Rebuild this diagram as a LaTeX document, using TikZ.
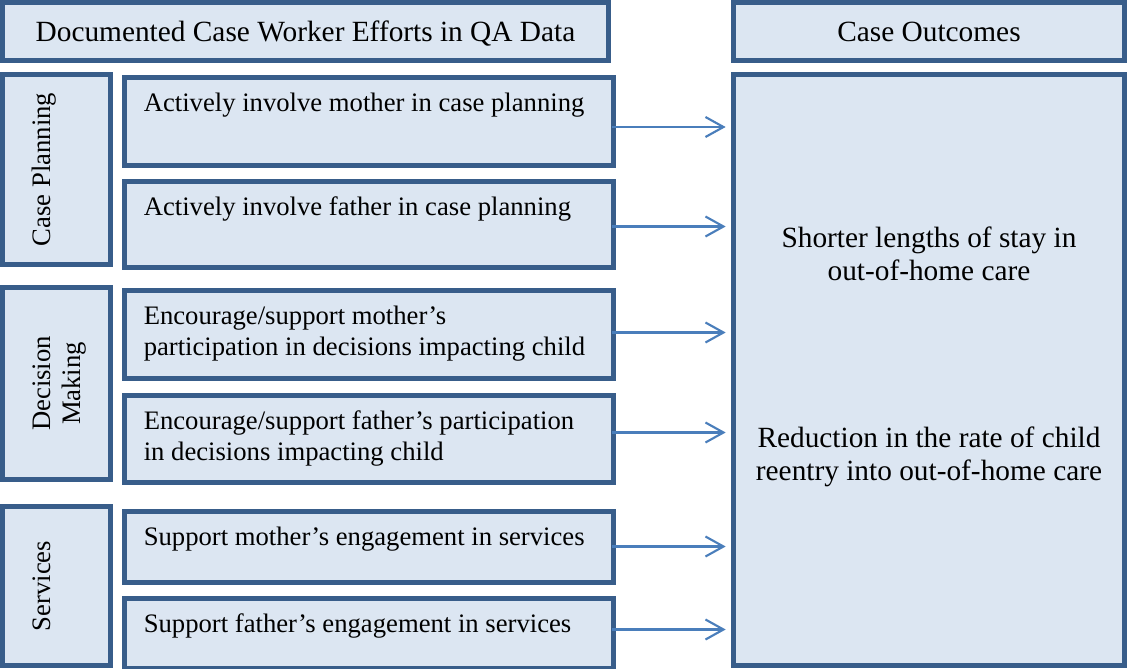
\documentclass[tikz,border=0pt]{standalone}
\usepackage{fontspec}
\setmainfont{Liberation Serif}
\usetikzlibrary{arrows.meta,positioning}

\definecolor{boxline}{HTML}{385D8A}
\definecolor{boxfill}{HTML}{DCE6F2}
\definecolor{arrowline}{HTML}{4A7EBB}
\newcommand{\px}{0.75pt}

\begin{document}
\begin{tikzpicture}[
    x=0.75pt, y=-0.75pt,
    boxed/.style={
        draw=boxline,
        fill=boxfill,
        line width=3.75pt,
        inner sep=0pt
    },
    header/.style={boxed, text height=16pt, text depth=1.75pt,
        font=\fontsize{22}{25}\selectfont},
    group/.style={boxed, rotate=90, align=center,
        minimum height=108*\px, text height=13.7pt, text depth=23.45pt,
        font=\fontsize{20}{22.5}\selectfont},
    effort/.style={boxed, anchor=north west, minimum width=489*\px},
    efftext/.style={anchor=base west, inner sep=0pt, align=left,
        font=\fontsize{20}{23.25}\selectfont},
    outtext/.style={anchor=base, inner sep=0pt, align=center,
        font=\fontsize{22}{25}\selectfont},
    link/.style={
        draw=arrowline,
        line width=1.6pt,
        -{Straight Barb[length=13.5pt, width=15pt]}
    }
]

% bounding box
\useasboundingbox (0,0) rectangle (1127,668);

% headers
\node[header, minimum width=606*\px, minimum height=58*\px] (effhead) at (305.5,31.5) {Documented Case Worker Efforts in QA Data};
\node[header, minimum width=391*\px, minimum height=58*\px] (outhead) at (929,31.5) {Case Outcomes};

% groups
\node[group, minimum width=190*\px] (planning) at (56.5,169.5) {Case Planning};
\node[group, minimum width=192*\px, text height=36.2pt, text depth=0.95pt] (decision) at (56.5,383.5) {Decision\\Making};
\node[group, minimum width=159*\px] (services) at (56.5,586) {Services};

% efforts
\node[effort, minimum height=88*\px] (planmom) at (121.5,74.5) {};
\node[effort, minimum height=86*\px] (plandad) at (121.5,178.5) {};
\node[effort, minimum height=88*\px] (decmom) at (121.5,287.5) {};
\node[effort, minimum height=87*\px] (decdad) at (121.5,392.5) {};
\node[effort, minimum height=71*\px] (servmom) at (121.5,508.5) {};
\node[effort, minimum height=70*\px] (servdad) at (121.5,595.5) {};

% texts (base = last line)
\node[efftext] (planmomtext) at ([shift={(22,36.5)}]planmom.north west) {Actively involve mother in case planning};
\node[efftext] (plandadtext) at ([shift={(22,36.5)}]plandad.north west) {Actively involve father in case planning};
\node[efftext] (decmomtext) at ([shift={(22,67.5)}]decmom.north west) {Encourage/support mother’s\\participation in decisions impacting child};
\node[efftext] (decdadtext) at ([shift={(22,67.5)}]decdad.north west) {Encourage/support father’s participation\\in decisions impacting child};
\node[efftext] (servmomtext) at ([shift={(22,36.5)}]servmom.north west) {Support mother’s engagement in services};
\node[efftext] (servdadtext) at ([shift={(22,36.5)}]servdad.north west) {Support father’s engagement in services};

% outcomes
\node[boxed, minimum width=391*\px, minimum height=591*\px] (outcomes) at (929,370) {};
\node[outtext] (staytext) at ([shift={(0,208.5)}]outcomes.north) {Shorter lengths of stay in\\out-of-home care};
\node[outtext] (reentrytext) at ([shift={(0,408.5)}]outcomes.north) {Reduction in the rate of child\\reentry into out-of-home care};

% arrows
\foreach \eff/\dy in {planmom/6, plandad/2.5, decmom/-1.5, decdad/-6, servmom/0, servdad/-3.5}
    \draw[link, shorten >=4pt] ([shift={(-3.5,\dy)}]\eff.east) -- ([shift={(0,\dy)}]\eff.east -| outcomes.west);

\end{tikzpicture}
\end{document}
